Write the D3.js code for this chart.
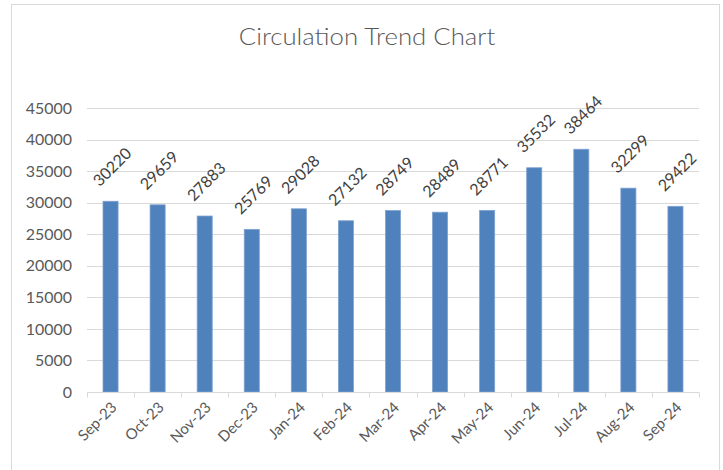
<!DOCTYPE html>
<html>
<head>
<meta charset="utf-8">
<script src="https://cdn.jsdelivr.net/npm/d3@7"></script>
<style>
  html, body { margin: 0; padding: 0; background: #fff; }
  svg { display: block; font-family: Lato, "Liberation Sans", sans-serif; }
</style>
</head>
<body>
<svg id="chart" width="723" height="470"></svg>
<script>
const title = "Circulation Trend Chart";
const categories = ["Sep-23","Oct-23","Nov-23","Dec-23","Jan-24","Feb-24","Mar-24","Apr-24","May-24","Jun-24","Jul-24","Aug-24","Sep-24"];
const circulation = [30220, 29659, 27883, 25769, 29028, 27132, 28749, 28489, 28771, 35532, 38464, 32299, 29422];
const yTicks = [0, 5000, 10000, 15000, 20000, 25000, 30000, 35000, 40000, 45000];

(function () {
const svg = d3.select("#chart");
const textColor = "#595959";
const gridColor = "#d9d9d9";

// chart border
svg.append("rect")
  .attr("x", 11.5).attr("y", 4.5)
  .attr("width", 708).attr("height", 480)
  .attr("fill", "#fff").attr("stroke", "#d9d9d9").attr("stroke-width", 1);

const pLeft = 87, pRight = 699, pTop = 108, pBottom = 392;

const x = d3.scaleBand().domain(categories).range([pLeft, pRight])
  .paddingInner(0.68).paddingOuter(0.34);
const y = d3.scaleLinear().domain([0, 45000]).range([pBottom, pTop]);

// title
svg.append("g")
  .attr("transform", "translate(367,45) scale(1.12,1)")
  .append("text")
  .attr("text-anchor", "middle")
  .attr("font-size", 23)
  .attr("font-weight", 300)
  .attr("fill", textColor)
  .text(title);

// gridlines
svg.append("g").selectAll("line")
  .data(yTicks.filter(d => d > 0))
  .join("line")
  .attr("x1", pLeft).attr("x2", pRight)
  .attr("y1", d => Math.round(y(d)) + 0.5).attr("y2", d => Math.round(y(d)) + 0.5)
  .attr("stroke", gridColor).attr("stroke-width", 1);

// y tick labels
svg.append("g").selectAll("g")
  .data(yTicks)
  .join("g")
  .attr("transform", d => `translate(72,${y(d)}) scale(1.1,1)`)
  .append("text")
  .attr("text-anchor", "end")
  .attr("dominant-baseline", "central")
  .attr("font-size", 14.5)
  .attr("fill", textColor)
  .text(d => d);

// bars
svg.append("g").selectAll("rect")
  .data(categories)
  .join("rect")
  .attr("x", d => x(d))
  .attr("width", x.bandwidth())
  .attr("y", (d, i) => y(circulation[i]))
  .attr("height", (d, i) => y(0) - y(circulation[i]))
  .attr("fill", "#4f81bd")
  .attr("stroke", "#7ea2d0").attr("stroke-width", 0.8);

// x axis
const xAxis = d3.axisBottom(x).tickSize(0).tickFormat("");
const ax = svg.append("g").attr("transform", `translate(0,${Math.round(pBottom) + 0.5})`).call(xAxis);
ax.select(".domain").attr("stroke", gridColor).attr("d", `M${pLeft},0H${pRight}`);
const bounds = d3.range(categories.length + 1).map(i => pLeft + i * x.step());
ax.selectAll("line.bt").data(bounds).join("line").attr("class", "bt")
  .attr("x1", d => Math.round(d) + 0.5).attr("x2", d => Math.round(d) + 0.5)
  .attr("y1", 0).attr("y2", 5)
  .attr("stroke", gridColor);

// x labels
svg.append("g").selectAll("text")
  .data(categories)
  .join("text")
  .attr("transform", d => `translate(${x(d) + x.bandwidth() / 2 + 3},${pBottom + 12}) rotate(-45)`)
  .attr("text-anchor", "end")
  .attr("dominant-baseline", "central")
  .attr("font-size", 15)
  .attr("fill", textColor)
  .text(d => d);

// data labels
svg.append("g").selectAll("text")
  .data(categories)
  .join("text")
  .attr("transform", (d, i) => `translate(${x(d) + x.bandwidth() / 2 + 1},${y(circulation[i]) - 35}) rotate(-45)`)
  .attr("text-anchor", "middle")
  .attr("dominant-baseline", "central")
  .attr("font-size", 16)
  .attr("fill", "#404040")
  .text((d, i) => circulation[i]);
})();
</script>
</body>
</html>
